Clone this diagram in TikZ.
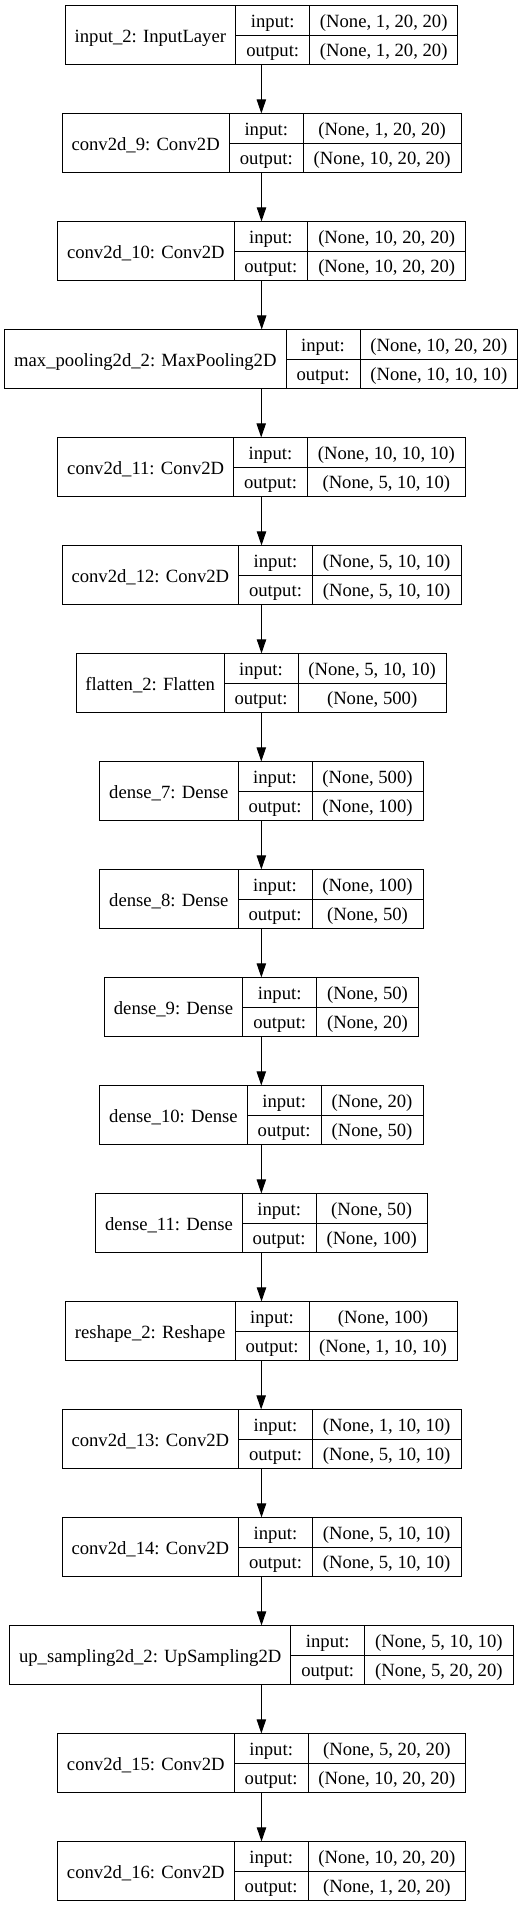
\documentclass[tikz,border=0pt]{standalone}
\usepackage{fontspec}
\setmainfont{Liberation Serif}
\usetikzlibrary{arrows.meta,fit}
\tikzset{
  cellbox/.style={draw=black, line width=0.75pt, inner sep=0pt},
  celltext/.style={inner sep=0pt, font=\fontsize{14pt}{16pt}\selectfont,
    text height=13pt, text depth=2.5pt},
  layerbox/.style={inner sep=0pt},
  flow/.style={-{Triangle[length=10.5pt,width=7pt]}, line width=0.75pt}
}
% #1 id, #2 top, #3 left, #4 col1, #5 col2, #6 right, #7 name, #8 input, #9 output
\newcommand{\nnlayer}[9]{%
  \node[cellbox, fit={(#3,#2) (#4,#2+59)}, label={[celltext]center:#7}] (#1name) {};
  \node[cellbox, fit={(#4,#2) (#5,#2+29.5)}, label={[celltext]center:input:}] (#1inl) {};
  \node[cellbox, fit={(#4,#2+29.5) (#5,#2+59)}, label={[celltext]center:output:}] (#1outl) {};
  \node[cellbox, fit={(#5,#2) (#6,#2+29.5)}, label={[celltext]center:{#8}}] (#1in) {};
  \node[cellbox, fit={(#5,#2+29.5) (#6,#2+59)}, label={[celltext]center:{#9}}] (#1out) {};
  \node[layerbox, fit={(#3,#2) (#6,#2+59)}] (#1) {};
}

\begin{document}
\begin{tikzpicture}[x=0.75pt, y=-0.75pt]
\useasboundingbox (0,0) rectangle (525,1907);

\nnlayer{in2}{5.7}{65}{235.7}{309.7}{457.7}{input\_2: InputLayer}{(None, 1, 20, 20)}{(None, 1, 20, 20)}
\nnlayer{c9}{113.7}{62}{229.3}{303.3}{461}{conv2d\_9: Conv2D}{(None, 1, 20, 20)}{(None, 10, 20, 20)}
\nnlayer{c10}{221.7}{57.7}{234}{307.7}{465.7}{conv2d\_10: Conv2D}{(None, 10, 20, 20)}{(None, 10, 20, 20)}
\nnlayer{mp}{329.7}{4.7}{286}{360}{517.7}{max\_pooling2d\_2: MaxPooling2D}{(None, 10, 20, 20)}{(None, 10, 10, 10)}
\nnlayer{c11}{437.7}{57.7}{233.7}{307.3}{465.3}{conv2d\_11: Conv2D}{(None, 10, 10, 10)}{(None, 5, 10, 10)}
\nnlayer{c12}{545.7}{62}{238.7}{312.3}{461}{conv2d\_12: Conv2D}{(None, 5, 10, 10)}{(None, 5, 10, 10)}
\nnlayer{fl}{653.7}{76.3}{224}{298}{446.3}{flatten\_2: Flatten}{(None, 5, 10, 10)}{(None, 500)}
\nnlayer{d7}{761.7}{99.7}{238}{312}{423}{dense\_7: Dense}{(None, 500)}{(None, 100)}
\nnlayer{d8}{869.7}{99.7}{238}{312}{423}{dense\_8: Dense}{(None, 100)}{(None, 50)}
\nnlayer{d9}{977.7}{104.3}{242.7}{316.7}{418.3}{dense\_9: Dense}{(None, 50)}{(None, 20)}
\nnlayer{d10}{1085.7}{99.7}{247.3}{321}{423}{dense\_10: Dense}{(None, 20)}{(None, 50)}
\nnlayer{d11}{1193.7}{95.7}{242.3}{316}{427.3}{dense\_11: Dense}{(None, 50)}{(None, 100)}
\nnlayer{rs}{1301.7}{65.3}{235}{309}{457}{reshape\_2: Reshape}{(None, 100)}{(None, 1, 10, 10)}
\nnlayer{c13}{1409.7}{62}{238.7}{312.3}{461}{conv2d\_13: Conv2D}{(None, 1, 10, 10)}{(None, 5, 10, 10)}
\nnlayer{c14}{1517.7}{62}{238.7}{312.3}{461}{conv2d\_14: Conv2D}{(None, 5, 10, 10)}{(None, 5, 10, 10)}
\nnlayer{up}{1625.7}{9.7}{290.7}{364.7}{513}{up\_sampling2d\_2: UpSampling2D}{(None, 5, 10, 10)}{(None, 5, 20, 20)}
\nnlayer{c15}{1733.7}{57.3}{234.3}{308}{465.7}{conv2d\_15: Conv2D}{(None, 5, 20, 20)}{(None, 10, 20, 20)}
\nnlayer{c16}{1841.7}{57.3}{234.3}{308}{465.7}{conv2d\_16: Conv2D}{(None, 10, 20, 20)}{(None, 1, 20, 20)}

\foreach \a/\b in {in2/c9, c9/c10, c10/mp, mp/c11, c11/c12, c12/fl, fl/d7, d7/d8, d8/d9,
    d9/d10, d10/d11, d11/rs, rs/c13, c13/c14, c14/up, up/c15, c15/c16}
  \draw[flow] (\a.south) -- (\a.south |- \b.north);
\end{tikzpicture}
\end{document}
